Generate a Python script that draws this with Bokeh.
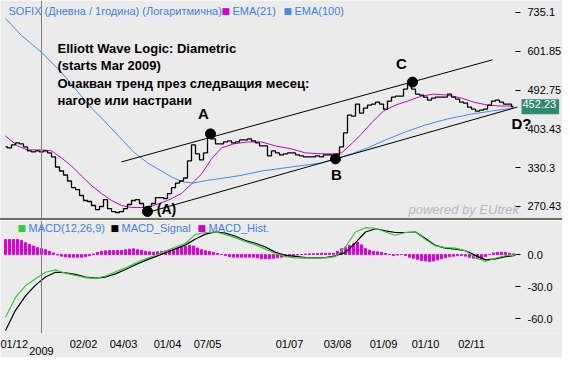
import math
from bokeh.plotting import figure
from bokeh.models import Range1d, FixedTicker, Span, Label, LinearAxis, Div
from bokeh.layouts import column
from bokeh.embed import file_html
from bokeh.resources import INLINE

# ---------------- data ----------------
price_days = list(range(-18, 237, 2))          # trading-day index, 0 = first day of 2009
close = [367.7, 365.8, 371.5, 375.3, 373.4, 367.7, 360.2, 358.3, 360.2, 358.3,
         360.2, 356.5, 349.2, 331.5, 324.7, 318.1, 308.4, 298.2, 295.1, 286.2,
         278.9, 277.5, 271.8, 266.2, 270.4, 280.3, 267.6, 263.5, 262.2, 263.5,
         267.6, 273.2, 278.9, 280.3, 274.6, 269.0, 270.4, 274.6, 283.2, 283.2,
         281.8, 289.1, 298.2, 305.2, 308.4, 313.2, 342.1, 371.5, 354.7, 343.9,
         356.5, 391.1, 383.1, 373.4, 373.4, 377.2, 379.2, 375.3, 377.2, 381.1,
         381.1, 383.1, 379.2, 375.3, 369.6, 369.6, 351.0, 360.2, 356.5, 352.8,
         354.7, 356.5, 356.5, 352.8, 351.0, 349.2, 349.2, 349.2, 351.0, 349.2,
         352.8, 352.8, 351.0, 352.8, 367.7, 395.2, 433.3, 431.1, 458.5, 437.8,
         449.1, 456.1, 458.5, 463.2, 458.5, 446.8, 465.6, 475.3, 477.8, 477.8,
         495.3, 510.9, 495.3, 482.7, 480.2, 475.3, 468.0, 472.9, 475.3, 475.3,
         475.3, 482.7, 475.3, 470.5, 463.2, 460.9, 451.5, 446.8, 442.3, 444.5,
         446.8, 456.1, 465.6, 468.0, 463.2, 458.5, 458.5, 452.23]

ema21_days = [-18, -12, -7, 0, 5, 10, 15, 20, 25, 30, 35, 40, 45, 53, 56, 63, 70, 75, 80, 85,
              90, 96, 103, 110, 117, 125, 132, 140, 147, 150, 155, 160, 165, 171, 177, 183, 190,
              196, 203, 210, 216, 223, 230, 236]
ema21 = [389.1, 369.6, 362.0, 362.0, 360.2, 347.4, 333.2, 316.4, 301.3, 289.1, 278.9, 271.8,
         269.0, 269.0, 271.8, 278.9, 289.1, 303.7, 319.7, 345.6, 365.8, 373.4, 377.2, 377.2,
         369.6, 363.9, 356.5, 354.7, 354.7, 356.5, 373.4, 393.2, 416.1, 442.3, 456.1, 465.6,
         477.8, 482.7, 480.2, 472.9, 463.2, 456.1, 453.8, 453.8]

ema100_days = [-18, -10, 0, 10, 17, 25, 30, 38, 46, 53, 60, 66, 71, 76, 83, 90, 100, 110, 125,
               140, 147, 155, 163, 172, 182, 192, 203, 215, 225, 236]
ema100 = [712.7, 652.9, 598.8, 540.1, 495.3, 449.1, 426.9, 391.1, 358.3, 338.6, 324.7, 313.2,
          306.8, 305.2, 309.6, 312.5, 317.6, 324.7, 331.5, 338.6, 345.6, 354.7, 365.8, 381.1,
          397.2, 411.8, 424.7, 435.5, 442.3, 449.1]

macd_days = list(range(-18, 238, 5))
macd = [-58.4, -40, -29, -22.5, -16.5, -14.3, -17.5, -19.5, -21.5, -22.5, -20, -16, -12.5, -8,
        -4, -0.7, 3.2, 7, 10.5, 18.8, 20.5, 21, 18.5, 15.5, 12, 9, 5, 1, -2, -3.2, -3.4, -3.4,
        -3.2, -2, 7, 21, 25, 24.5, 21, 18, 20.5, 21, 14, 8, 6.5, 6, 3.5, -3, -6.5, -3.5, -1, -0.5]
signal = [-70.8, -52, -38.5, -28.5, -21, -16.5, -17, -18.5, -21, -22, -21, -18, -14, -9.5,
          -5.5, -2, 1.7, 5.3, 9, 14.5, 19, 21, 20, 17, 13, 10.5, 7, 2, -0.8, -1.8, -2.8, -3.1,
          -2.8, -1.2, 2, 11, 21, 24, 22, 20.5, 20.5, 21, 15, 8.5, 6, 5, 3.5, -0.8, -5, -4, -2, -0.9]
hist = [14, 14, 14, 14, 13, 11, 9.5, 8, 6.5, 5.5,
        4.5, 3, 1.5, -0.5, -1.5, -2.2, -2.5, -2.5, -2.5, -2.5,
        -2, -1.2, 0.5, 2, 3, 3.5, 3.7, 3.7, 3.7, 3.7,
        4.5, 5, 5.3, 4.5, 3.8, 3, 2.5, 2.2, 2.5, 2.8,
        3.5, 4.5, 5.3, 6, 6.8, 7.5, 8.4, 8, 6, 4.4,
        3.5, 2.8, 2, 1, 0, -1, -2, -2.5, -2.5, -2.5,
        -2.5, -2.5, -2.5, -3, -4, -4, -4, -3.5, -3, -2.5,
        -2, -1.5, -1, -0.5, 0, 0.5, 0.6, 0.8, 1, 1.2,
        1.2, 1.2, 1.2, 3, 5.3, 6.8, 8.5, 10, 11.5, 9,
        5.5, 4, 3, 2.5, 2, 1, 0, -1, -0.5, 0,
        -1, -2.5, -3.5, -4.5, -5.6, -6, -6.5, -6, -5, -4,
        -3, -2, -1.6, -1.2, -1, -1.5, -2.5, -3.4, -3.8, -4,
        -2, 0, 1.5, 2, 2.2, 2, 1.2, 0.6]

upper_days = [40, 225.5]
upper_vals = [340.3, 576.0]
lower_days = [53, 238]
lower_vals = [262.2, 451.5]

wave_days = [53, 84.5, 147, 185.5]
wave_vals = [263.5, 393.2, 345.6, 513.5]
wave_names = ["(A)", "A", "B", "C"]
last_close = 452.23

price_ticks = [270.43, 330.3, 403.43, 492.75, 601.85, 735.1]
price_tick_labels = ["270.43", "330.3", "403.43", "492.75", "601.85", "735.1"]
macd_ticks = [-60, -30, 0]
macd_tick_labels = ["-60.0", "-30.0", "0.0"]
date_ticks = [-17.5, 21, 41, 63, 83, 124, 148, 171, 192, 215]
date_labels = ["01/12", "02/02", "04/03", "01/04", "07/05", "01/07", "03/08", "01/09", "01/10", "02/11"]
year_ticks = [0]
year_labels = ["2009"]

title_text = "SOFIX (Дневна / 1година) (Логаритмична)"
note_lines = ["Elliott Wave Logic: Diametric", "(starts Mar 2009)",
              "Очакван тренд през следващия месец:", "нагоре или настрани"]

# ---------------- helpers for placing annotations ----------------
def dx(px):      # pixel column -> trading-day index (2 px per day)
    return (px - 41) / 2.0

def py(px):      # pixel row -> price on the log panel
    return math.exp(6.6 - (px - 12) / 194.0)

def my(px):      # pixel row -> MACD value (panel starts at row 220)
    return (254 - px) * 30 / 32.2

FONT = "Liberation Sans"
BG = "#ebebeb"
BLUE_TXT = "#3f7fe6"
MAG = "#d000d0"
EMA_BLUE = "#3f8ff0"
GREEN = "#33cc33"
W = 562

xr = Range1d(dx(0), dx(W))
AXIS_AT = dx(520)

def style_right_axis(ax, ticks, labels):
    ax.fixed_location = AXIS_AT
    ax.ticker = FixedTicker(ticks=ticks)
    ax.major_label_overrides = dict(zip(ticks, labels))
    ax.axis_line_color = None
    ax.major_tick_in = 5
    ax.major_tick_out = 0
    ax.major_tick_line_color = "black"
    ax.minor_tick_line_color = None
    ax.major_label_standoff = 7
    ax.major_label_text_font = FONT
    ax.major_label_text_font_size = "11px"
    ax.major_label_text_color = "black"

# ---------------- main price panel ----------------
p1 = figure(width=W, height=218, x_range=xr, y_range=Range1d(254.2, 782.0), y_axis_type="log",
            x_axis_location=None, y_axis_location="right", output_backend="svg",
            toolbar_location=None, title=None, min_border_left=0, min_border_right=0,
            min_border_top=0, min_border_bottom=0, background_fill_color=BG,
            border_fill_color=BG, outline_line_color=None)
p1.grid.visible = False
style_right_axis(p1.yaxis[0], price_ticks, price_tick_labels)

p1.add_layout(Span(location=0, dimension="height", line_color="#808080", line_width=1))
p1.line(ema100_days, ema100, line_color=EMA_BLUE, line_width=1)
p1.line(upper_days, upper_vals, line_color="black", line_width=1)
p1.line(lower_days, lower_vals, line_color="black", line_width=1)
p1.line(ema21_days, ema21, line_color="#cc00cc", line_width=1)
p1.step(price_days, close, mode="center", line_color="black", line_width=1.3)
p1.scatter(wave_days, wave_vals, size=10, color="black")

offs = {"(A)": (19, 3), "A": (-7, 20), "B": (1, -16), "C": (-11, 19)}
for d, v, n in zip(wave_days, wave_vals, wave_names):
    ox, oy = offs[n]
    p1.add_layout(Label(x=d, y=v, text=n, x_offset=ox, y_offset=oy, text_align="center",
                        text_baseline="middle", text_font=FONT, text_font_style="bold",
                        text_font_size="14px" if n == "(A)" else "15px", text_color="black"))
p1.add_layout(Label(x=lower_days[-1], y=lower_vals[-1], text="D?", x_offset=4, y_offset=-16,
                    text_align="center", text_baseline="middle", text_font=FONT,
                    text_font_style="bold", text_font_size="15px", text_color="black"))

for i, t in enumerate(note_lines):
    p1.add_layout(Label(x=dx(57), y=py(48 + 17.4 * i), text=t, text_align="left",
                        text_baseline="alphabetic", text_font=FONT, text_font_style="bold",
                        text_font_size="13px", text_color="black"))

p1.add_layout(Label(x=dx(8), y=py(11), text=title_text, text_baseline="middle",
                    text_font=FONT, text_font_size="11px", text_color=BLUE_TXT))
for sx, col, txt in [(221, MAG, "EMA(21)"), (283, EMA_BLUE, "EMA(100)")]:
    p1.add_layout(Label(x=dx(sx), y=py(11), text="■", text_baseline="middle",
                        text_font="DejaVu Sans", text_font_size="9px", text_color=col))
    p1.add_layout(Label(x=dx(sx + 11), y=py(11), text=txt, text_baseline="middle",
                        text_font=FONT, text_font_size="11px", text_color=BLUE_TXT))

p1.add_layout(Label(x=dx(408), y=py(209), text="powered by EUtrek", text_baseline="middle",
                    text_font=FONT, text_font_style="italic", text_font_size="13px",
                    text_color="#b8b8b8"))
p1.add_layout(Label(x=dx(521), y=last_close, text="452.23", text_baseline="middle",
                    text_align="left", text_font=FONT, text_font_size="11px",
                    text_color="white", background_fill_color="#2e8a70", padding=(1, 3, 1, 6)))

# ---------------- MACD panel ----------------
p2 = figure(width=W, height=137, x_range=xr, y_range=Range1d(-73.6, 31.7),
            y_axis_location="right", output_backend="svg", toolbar_location=None, title=None,
            min_border_left=0, min_border_right=0, min_border_top=0, min_border_bottom=24,
            background_fill_color=BG, border_fill_color=BG, outline_line_color=None)
p2.grid.visible = False
style_right_axis(p2.yaxis[0], macd_ticks, macd_tick_labels)

xa = p2.xaxis[0]
xa.ticker = FixedTicker(ticks=date_ticks)
xa.major_label_overrides = dict(zip(date_ticks, date_labels))
xa.axis_line_color = None
xa.major_tick_in = 0
xa.major_tick_out = 0
xa.minor_tick_line_color = None
xa.major_label_standoff = 4
xa.major_label_text_font = FONT
xa.major_label_text_font_size = "11px"
xa.major_label_text_color = "black"

ya = LinearAxis(ticker=FixedTicker(ticks=year_ticks),
                major_label_overrides=dict(zip(year_ticks, year_labels)))
ya.axis_line_color = None
ya.major_tick_in = 0
ya.major_tick_out = 0
ya.minor_tick_line_color = None
ya.major_label_standoff = -6
ya.major_label_text_font = FONT
ya.major_label_text_font_size = "11px"
ya.major_label_text_color = "black"
p2.add_layout(ya, "below")

p2.add_layout(Span(location=0, dimension="height", line_color="#808080", line_width=1))
p2.vbar(x=price_days, top=hist, bottom=0, width=1, color="#dd00dd")
p2.line(macd_days, signal, line_color="black", line_width=1.2)
p2.line(macd_days, macd, line_color=GREEN, line_width=1.2)

for sx, col, txt in [(17, GREEN, "MACD(12,26,9)"), (110, "black", "MACD_Signal"),
                     (197, MAG, "MACD_Hist.")]:
    p2.add_layout(Label(x=dx(sx), y=my(227), text="■", text_baseline="middle",
                        text_font="DejaVu Sans", text_font_size="9px", text_color=col))
    p2.add_layout(Label(x=dx(sx + 11), y=my(227), text=txt, text_baseline="middle",
                        text_font=FONT, text_font_size="11px", text_color=BLUE_TXT))

sep = Div(width=W, height=2, styles={"background-color": "#6e6e5c"}, margin=(0, 0, 0, 0))
layout = column(p1, sep, p2, spacing=0)

open("out.html", "w").write(file_html(layout, INLINE))
